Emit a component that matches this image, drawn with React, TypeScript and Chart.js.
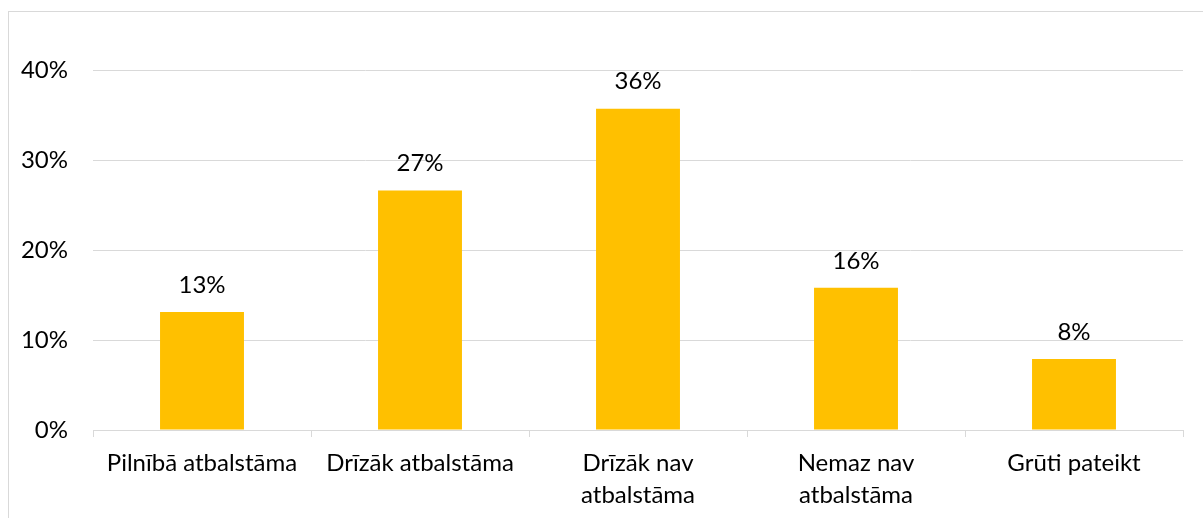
import React, { useEffect, useRef } from "react";
import { Chart, registerables } from "chart.js";

Chart.register(...registerables);

const categories: (string | string[])[] = [
  "Pilnībā atbalstāma",
  "Drīzāk atbalstāma",
  ["Drīzāk nav", "atbalstāma"],
  ["Nemaz nav", "atbalstāma"],
  "Grūti pateikt",
];
const values: number[] = [13.1, 26.6, 35.7, 15.8, 7.9];
const yTicks: number[] = [0, 10, 20, 30, 40];

const FONT = "Lato, 'Liberation Sans', sans-serif";
const FONT_SIZE = 24;

const dataLabelPlugin = {
  id: "dataLabels",
  afterDatasetsDraw(chart: any) {
    const ctx = chart.ctx;
    const meta = chart.getDatasetMeta(0);
    ctx.save();
    ctx.font = `${FONT_SIZE}px ${FONT}`;
    ctx.fillStyle = "#000000";
    ctx.textAlign = "center";
    ctx.textBaseline = "middle";
    meta.data.forEach((bar: any, i: number) => {
      ctx.fillText(`${Math.round(values[i])}%`, bar.x, bar.y - 27);
    });
    ctx.restore();
  },
};

export default function App() {
  const ref = useRef<HTMLCanvasElement>(null);
  useEffect(() => {
    if (!ref.current) return;
    const chart = new Chart(ref.current, {
      type: "bar",
      data: {
        labels: categories,
        datasets: [
          {
            data: values,
            backgroundColor: "#FFC000",
            borderWidth: 0,
            barPercentage: 0.385,
            categoryPercentage: 1,
          },
        ],
      },
      options: {
        responsive: false,
        animation: false,
        layout: { padding: { left: 0, right: 20, top: 58, bottom: 0 } },
        plugins: { legend: { display: false }, tooltip: { enabled: false } },
        scales: {
          x: {
            offset: true,
            grid: {
              offset: true,
              drawOnChartArea: false,
              drawTicks: true,
              tickLength: 7,
              color: "#d9d9d9",
            },
            border: { color: "#d9d9d9", width: 1 },
            ticks: {
              color: "#000000",
              padding: 10,
              maxRotation: 0,
              autoSkip: false,
              font: { family: FONT, size: FONT_SIZE, lineHeight: "32px" },
            },
            afterFit: (scale: any) => {
              scale.height = 88;
            },
          },
          y: {
            min: 0,
            max: 40,
            afterBuildTicks: (scale: any) => {
              scale.ticks = yTicks.map((v) => ({ value: v }));
            },
            grid: { color: "#d9d9d9", drawTicks: false, lineWidth: 1 },
            border: { display: false },
            ticks: {
              color: "#000000",
              padding: 25,
              font: { family: FONT, size: FONT_SIZE },
              callback: (v: any) => `${v}%`,
            },
            afterFit: (scale: any) => {
              scale.width = 84;
            },
          },
        },
      },
      plugins: [dataLabelPlugin],
    });
    return () => chart.destroy();
  }, []);
  return (
    <div
      style={{
        position: "absolute",
        left: 8,
        top: 11,
        width: 1195,
        height: 507,
        overflow: "hidden",
        borderLeft: "1px solid #d9d9d9",
        borderTop: "1px solid #d9d9d9",
        boxSizing: "border-box",
        background: "#fff",
      }}
    >
      <canvas ref={ref} width={1194} height={506} style={{ display: "block" }} />
    </div>
  );
}
